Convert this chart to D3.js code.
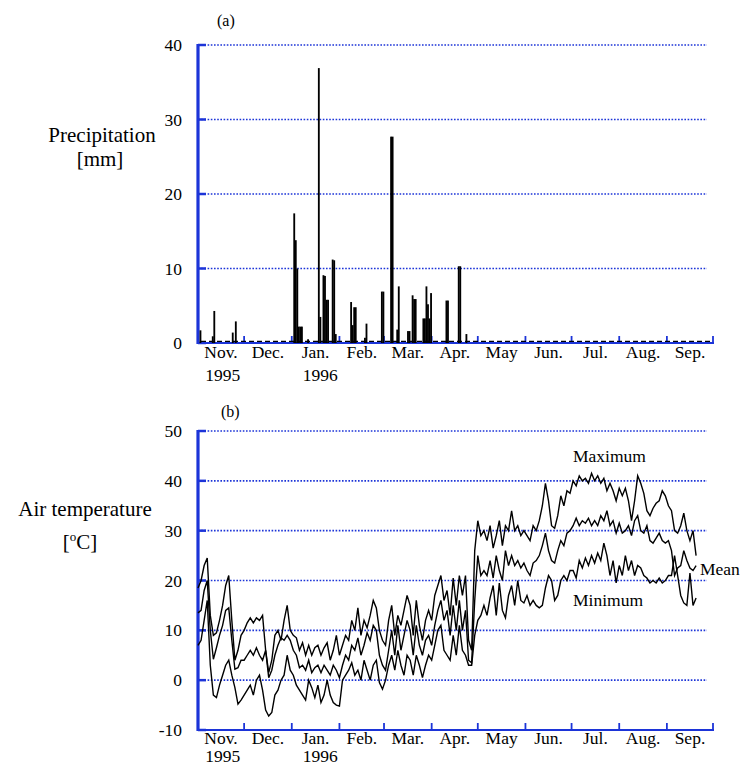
<!DOCTYPE html>
<html><head><meta charset="utf-8">
<script src="https://cdn.jsdelivr.net/npm/d3@7"></script>
<style>
body{margin:0;background:#fff}
text{font-family:"Liberation Serif","Times New Roman",serif;fill:#000}
</style>
</head><body>
<svg id="c" width="746" height="767"></svg>
<script>
// ---------- DATA ----------
const monthLabels = ["Nov.","Dec.","Jan.","Feb.","Mar.","Apr.","May","Jun.","Jul.","Aug.","Sep."];
const yearLabels = {"Nov.":"1995","Jan.":"1996"};
const precipTicks = [0,10,20,30,40];
const tempTicks = [-10,0,10,20,30,40,50];

const precipDates = ["1995-11-02","1995-11-10","1995-11-11","1995-11-23","1995-11-25",
 "1996-01-02","1996-01-03","1996-01-04","1996-01-05","1996-01-06","1996-01-07","1996-01-11",
 "1996-01-18","1996-01-19","1996-01-21","1996-01-22","1996-01-23","1996-01-24","1996-01-27","1996-01-28","1996-01-29",
 "1996-02-08","1996-02-09","1996-02-10","1996-02-11","1996-02-17","1996-02-18","1996-02-28","1996-02-29",
 "1996-03-05","1996-03-06","1996-03-09","1996-03-10","1996-03-16","1996-03-17","1996-03-19","1996-03-20","1996-03-21",
 "1996-03-26","1996-03-27","1996-03-28","1996-03-29","1996-03-30","1996-03-31",
 "1996-04-10","1996-04-11","1996-04-18","1996-04-19","1996-04-23"];
const precipValues = [1.7,0.9,4.3,1.4,2.9,
 17.4,13.8,10,2.2,2.2,2.2,0.5,
 36.9,3.5,9.1,9.0,5.8,5.8,11.2,11.1,1.2,
 5.5,2.4,4.8,4.8,0.7,2.6,6.9,6.9,
 27.7,27.7,1.8,7.6,1.6,1.6,6.4,5.9,5.9,
 3.3,3.3,7.6,5.2,3.3,6.7,
 5.7,5.7,10.3,10.3,1.2];

// temperature: one value every 2 days starting 1995-11-01
const tempStart = "1995-11-01";
const tempStepDays = 2;
const tempMax = [18.5,20,23,24.5,13,9,9.5,12,15,19,21,12,4,6,9,
 10,11.5,12.5,11.5,12.5,12,13,6,1.5,4,9,10,8,12,15,10,
 9,8.5,6,7.5,5,7,5,6.5,7,5,6.5,7.5,4,6,9,
 5,7,9,8,12,10,14.5,9,12,10.5,13,16,14.5,10,8,
 7,12,15,9,13,11,14,17,15,9,16,11,8,12,14,
 12,17,19,21,16,18,13,20.5,15,21,17,21,8,6,26,
 32,29,30,28,31,26.5,29,32,27,31,30,34,30,31,29,30,
 29,28,31,30,32,35,39.5,36,31,30.5,33,37,35,38,37.5,
 40,39,41,40,40.5,39.5,41.5,40,41,39.5,40.5,38,39.5,38,36,
 38.5,37,38.5,36,32,36,41,39.5,37.5,34,33,34.5,35.5,36,38,37,
 35,34,30,29.5,31,33.5,30,28,30,25];
const tempMean = [13.5,14,18,20,10,4.2,6.5,9,11,14,14.5,8,2.2,2.5,4,
 4,5,6,5,6.5,5,4,6,0.5,2,5,7,8.5,8,9,8,
 6,5,2.5,3,2,4,1.5,2.5,3,1.5,3,2,1,3,2,
 0.5,3,5,4,7,6,8.5,5,7,9.5,8,11,10,5,3,
 2,6,10,5,11,6,9,12,10,5,11,7,5,8,9,
 7,11,14,16,12,14,9,15,10,16,10,14,4,3.5,16,
 25,21,22,21,24,20.5,25,22,20,26,23,25,23,24,22.5,23.5,
 22,21,23.5,24,25,27,29.5,26,24,23.5,26,28,27,29.5,30,
 31,32.5,31,32,31.5,32.5,31,32,31,33,32,34,31,32,29.5,
 31.5,29.5,30,31,29,32,33,30,29.5,31,28,27.5,28.5,29.5,28,27.5,
 28,26,21,22.5,23,26,24,22.5,22,23];
const tempMin = [7,8,12,16,3,-3,-3.5,-1,1,3,4,1,-1.5,-4.8,-4,
 -3,-2,-1,-3,0,1,-2,-6,-7.2,-6.5,-3,-2,0,1,5,2,
 1,-1,-2,-3,-4,0,-1.5,-3.5,-1,-4.5,-3,0,-3,-4.5,-5,
 -5.2,0,1,2,3.5,1,2,0,4,2,0,3,4,-0.5,-1.8,
 0,3,5,2,6,3,1,5,4,1,5,3,0.5,3,5,
 4,7,10,11,6,5,4,9,5,11,6,5,3,3,9,
 12,13,15,13,16.5,19,13,19.5,14,12.5,17,19,15,20,16,15.5,
 17,15,16,15,14.5,15,18.5,21,20,16,17,20,21,20,22,
 22,20.5,24,22.5,24.5,23,25,23.5,25.5,24,27.5,25,21,24,19.5,
 23,21,25,22,24,21,23,22.5,21,20.5,19.5,20,19.5,20.5,19.5,20,
 21,21,25,21,17,15.5,15,21.5,15,16.5];

// ---------- DRAW ----------
const svg = d3.select("#c");
const BLUE = "#1c34d8";
const parse = d3.utcParse("%Y-%m-%d");
const x0 = parse("1995-11-01"), x1 = parse("1996-10-01");
const x = d3.scaleUtc().domain([x0, x1]).range([198, 713]);
const monthStarts = d3.utcMonths(x0, d3.utcDay.offset(x1, 1));
const gridEnd = 707;

function panel(y, ticks, gridVals, monthY, yearY) {
  const g = svg.append("g");
  g.selectAll(".grid").data(gridVals).join("line")
    .attr("x1", 198).attr("x2", gridEnd)
    .attr("y1", d => y(d)).attr("y2", d => y(d))
    .attr("stroke", BLUE).attr("stroke-width", 1.6).attr("stroke-dasharray", "1.6,1.6");
  g.selectAll(".yt").data(ticks).join("line")
    .attr("x1", 198).attr("x2", 206)
    .attr("y1", d => y(d)).attr("y2", d => y(d))
    .attr("stroke", BLUE).attr("stroke-width", 2.5);
  g.append("line").attr("x1", 198).attr("x2", 198)
    .attr("y1", y(ticks[ticks.length-1]) - 1).attr("y2", y(ticks[0]) + 1)
    .attr("stroke", BLUE).attr("stroke-width", 3.2);
  g.append("line").attr("x1", 198).attr("x2", x(x1)+1)
    .attr("y1", y(ticks[0])).attr("y2", y(ticks[0]))
    .attr("stroke", BLUE).attr("stroke-width", 2);
  g.selectAll(".mt").data(monthStarts).join("line")
    .attr("x1", d => x(d)).attr("x2", d => x(d))
    .attr("y1", y(ticks[0])).attr("y2", y(ticks[0]) - 7)
    .attr("stroke", BLUE).attr("stroke-width", 1.8);
  g.selectAll(".yl").data(ticks).join("text")
    .attr("x", 182).attr("y", d => y(d) + 6)
    .attr("text-anchor", "end").attr("font-size", 17.5)
    .text(d => d);
  monthLabels.forEach((m, i) => {
    const cx = (x(monthStarts[i]) + x(monthStarts[i+1])) / 2;
    const t = g.append("text").attr("x", cx).attr("y", monthY)
      .attr("text-anchor", "middle").attr("font-size", 17.5).text(m);
    if (yearLabels[m]) {
      const bb = t.node().getBBox();
      g.append("text").attr("x", bb.x + 1).attr("y", yearY)
        .attr("font-size", 17.5).text(yearLabels[m]);
    }
  });
  return g;
}

// ---- panel (a) precipitation ----
const yP = d3.scaleLinear().domain([0, 40]).range([343, 45]);
const gA = panel(yP, precipTicks, [10,20,30,40], 358, 381);
gA.append("line").attr("x1", x(x0) + 3).attr("x2", x(x1) - 2)
  .attr("y1", yP(0) - 1.6).attr("y2", yP(0) - 1.6)
  .attr("stroke", "#000").attr("stroke-width", 1.4).attr("stroke-dasharray", "5,3");
const bars = precipDates.map((d, i) => ({date: parse(d), v: precipValues[i]}));
gA.append("g").selectAll("rect").data(bars).join("rect")
  .attr("x", d => x(d.date))
  .attr("width", d => x(d3.utcDay.offset(d.date, 1)) - x(d.date) + 0.3)
  .attr("y", d => yP(d.v))
  .attr("height", d => yP(0) - yP(d.v))
  .attr("fill", "#000");
svg.append("text").attr("x", 217).attr("y", 26).attr("font-size", 16).text("(a)");
svg.append("text").attr("x", 102).attr("y", 142).attr("text-anchor", "middle").attr("font-size", 21).text("Precipitation");
svg.append("text").attr("x", 100).attr("y", 166).attr("text-anchor", "middle").attr("font-size", 21).text("[mm]");

// ---- panel (b) air temperature ----
const yT = d3.scaleLinear().domain([-10, 50]).range([730, 431]);
const gB = panel(yT, tempTicks, [0,10,20,30,40,50], 744, 762);
const start = parse(tempStart);
const line = d3.line()
  .x((d, i) => x(d3.utcDay.offset(start, i * tempStepDays)))
  .y(d => yT(d));
[tempMax, tempMean, tempMin].forEach(s => {
  gB.append("path").attr("d", line(s)).attr("fill", "none")
    .attr("stroke", "#000").attr("stroke-width", 1.4).attr("stroke-linejoin", "miter");
});
svg.append("text").attr("x", 221).attr("y", 417).attr("font-size", 16).text("(b)");
svg.append("text").attr("x", 85).attr("y", 516).attr("text-anchor", "middle").attr("font-size", 21).text("Air temperature");
const cl = svg.append("text").attr("x", 80).attr("y", 549).attr("text-anchor", "middle").attr("font-size", 21);
cl.append("tspan").text("[");
cl.append("tspan").attr("font-size", 13).attr("dy", -8).text("o");
cl.append("tspan").attr("dy", 8).text("C]");
svg.append("text").attr("x", 573).attr("y", 462).attr("font-size", 17.5).text("Maximum");
svg.append("text").attr("x", 700).attr("y", 575).attr("font-size", 17.5).text("Mean");
svg.append("text").attr("x", 573).attr("y", 606).attr("font-size", 17.5).text("Minimum");
</script>
</body></html>
